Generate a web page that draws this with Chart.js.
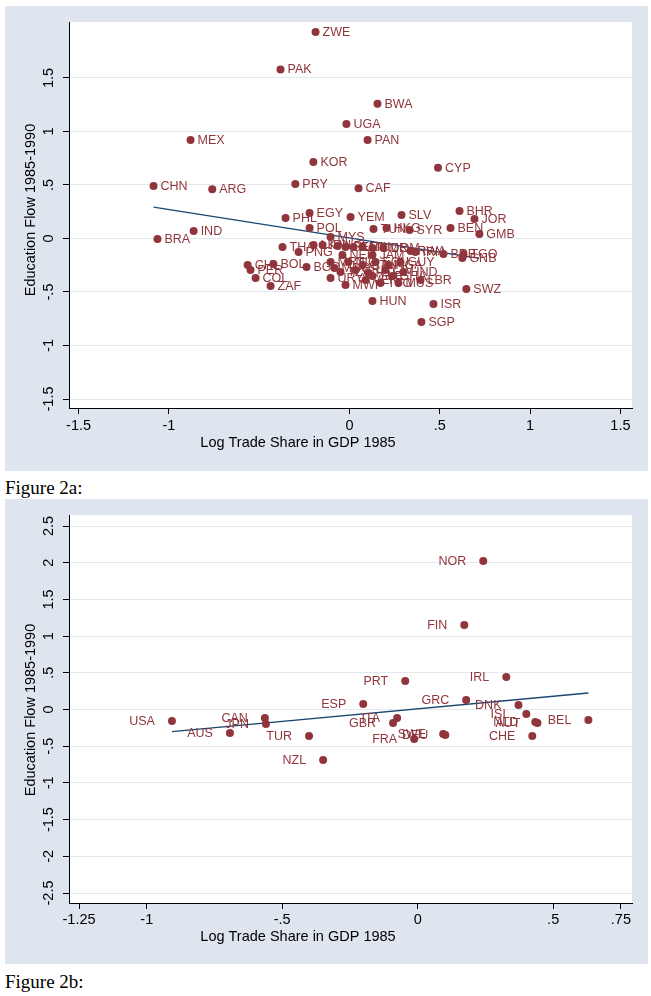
<!DOCTYPE html>
<html><head><meta charset="utf-8">
<script src="https://cdn.jsdelivr.net/npm/chart.js@4.4.1/dist/chart.umd.min.js"></script>
<style>
html,body{margin:0;padding:0;background:#fff;}
body{width:651px;height:996px;position:relative;overflow:hidden;}
canvas{position:absolute;left:5px;}
#ca{top:6px;} #cb{top:499px;}
.fig{position:absolute;left:5px;font-family:"Liberation Serif","DejaVu Serif",serif;font-size:19px;line-height:20px;color:#000;white-space:nowrap;}
#fa{top:478px;} #fb{top:972px;}
</style></head><body>
<canvas id="ca" width="643" height="465"></canvas>
<div class="fig" id="fa">Figure 2a:</div>
<canvas id="cb" width="643" height="465"></canvas>
<div class="fig" id="fb">Figure 2b:</div>
<script>
// ---------- Figure 2a data ----------
const countriesA = ["ZWE","PAK","BWA","UGA","PAN","MEX","KOR","CYP","CHN","ARG","PRY","CAF","EGY","PHL","YEM","SLV","BHR","JOR","GMB","BEN","SYR","TUN","HKG","POL","IND","BRA","MYS","THA","PNG","CHL","PER","COL","BOL","ZAF","BGD","HUN","ISR","SGP","SWZ","GNB","TGO","BRB","RWA","IRN","DOM","LKA","IDN","NPL","SEN","KEN","MLI","CMR","NER","JAM","GUY","HND","LBR","MUS","TTO","MWI","MRT","MDG","TZA","URY","NIC","CRI","GTM","HTI","ECU","CIV","GHA","VEN","SLE","NGA"];
const tradeA = [-0.188,-0.382,0.155,-0.017,0.10,-0.88,-0.20,0.49,-1.085,-0.76,-0.30,0.05,-0.221,-0.354,0.006,0.288,0.609,0.692,0.719,0.559,0.332,0.133,0.205,-0.221,-0.863,-1.063,-0.105,-0.371,-0.282,-0.564,-0.548,-0.520,-0.421,-0.437,-0.238,0.127,0.465,0.398,0.647,0.625,0.631,0.520,0.338,0.365,0.188,-0.199,-0.149,-0.066,-0.022,0.022,0.072,0.127,-0.039,0.127,0.282,0.299,0.393,0.271,0.172,-0.022,-0.105,-0.083,-0.050,-0.105,-0.006,0.033,0.072,0.105,0.144,0.199,0.238,0.089,0.127,0.216];
const eduA = [1.93,1.58,1.26,1.07,0.92,0.92,0.715,0.66,0.49,0.46,0.51,0.47,0.238,0.192,0.201,0.220,0.257,0.182,0.042,0.098,0.079,0.089,0.098,0.098,0.070,-0.005,0.014,-0.079,-0.126,-0.248,-0.294,-0.369,-0.238,-0.444,-0.266,-0.584,-0.612,-0.780,-0.472,-0.182,-0.145,-0.145,-0.117,-0.126,-0.089,-0.061,-0.061,-0.070,-0.079,-0.079,-0.079,-0.089,-0.154,-0.154,-0.220,-0.313,-0.388,-0.416,-0.416,-0.435,-0.220,-0.276,-0.313,-0.369,-0.220,-0.294,-0.248,-0.322,-0.220,-0.294,-0.350,-0.388,-0.350,-0.248];
const fitXA = [-1.085, 0.719];
const fitYA = [0.294, -0.186];
const xTicksA = [-1.5,-1,0,0.5,1,1.5];
const xTickLabelsA = ["-1.5","-1","0",".5","1","1.5"];
const yTicksA = [-1.5,-1,-0.5,0,0.5,1,1.5];
const yTickLabelsA = ["-1.5","-1","-.5","0",".5","1","1.5"];

// ---------- Figure 2b data ----------
const countriesB = ["NOR","FIN","PRT","IRL","GRC","ESP","DNK","ISL","NLD","AUT","BEL","CHE","ITA","GBR","FRA","SWE","DEU","TUR","NZL","USA","CAN","JPN","AUS"];
const tradeB = [0.242,0.172,-0.046,0.327,0.179,-0.201,0.372,0.401,0.434,0.442,0.630,0.423,-0.076,-0.091,-0.013,0.094,0.102,-0.401,-0.349,-0.907,-0.564,-0.560,-0.693];
const eduB = [2.023,1.151,0.388,0.443,0.129,0.075,0.061,-0.061,-0.170,-0.184,-0.143,-0.361,-0.116,-0.184,-0.402,-0.334,-0.347,-0.361,-0.688,-0.157,-0.116,-0.198,-0.320];
const fitXB = [-0.907, 0.630];
const fitYB = [-0.30, 0.225];
const xTicksB = [-1.25,-1,-0.5,0,0.5,0.75];
const xTickLabelsB = ["-1.25","-1","-.5","0",".5",".75"];
const yTicksB = [-2.5,-2,-1.5,-1,-0.5,0,0.5,1,1.5,2,2.5];
const yTickLabelsB = ["-2.5","-2","-1.5","-1","-.5","0",".5","1","1.5","2","2.5"];

const xTitle = 'Log Trade Share in GDP 1985';
const yTitle = 'Education Flow 1985-1990';

const MAROON = '#90353b', NAVY = '#1a476f', PANEL = '#dfe5ee', GRID = '#e2e9f1';
const FONT = '"Liberation Sans", Arial, sans-serif';

function makeChart(id, cfg) {
  const bgPlugin = { id: 'bg', beforeDraw(chart) {
    const {ctx, chartArea: a, width, height} = chart;
    ctx.save(); ctx.fillStyle = PANEL; ctx.fillRect(0, 0, width, height);
    ctx.fillStyle = '#fff'; ctx.fillRect(a.left, a.top, a.right - a.left, a.bottom - a.top); ctx.restore();
  }};
  const labelPlugin = { id: 'ptLabels', afterDatasetsDraw(chart) {
    const ctx = chart.ctx, meta = chart.getDatasetMeta(0);
    ctx.save(); ctx.font = '12.5px ' + FONT; ctx.fillStyle = MAROON; ctx.textBaseline = 'middle';
    const right = cfg.labelSide === 'right';
    ctx.textAlign = right ? 'left' : 'right';
    meta.data.forEach((el, i) => { ctx.fillText(cfg.names[i], el.x + (right ? 7 : -17), el.y + 0.5); });
    ctx.restore();
  }};
  const axisTextPlugin = { id: 'axisText', afterDraw(chart) {
    const s = chart.scales.y, ctx = chart.ctx;
    ctx.save(); ctx.font = '14.5px ' + FONT; ctx.fillStyle = '#000'; ctx.textAlign = 'center'; ctx.textBaseline = 'middle';
    s.ticks.forEach((t, i) => {
      const py = s.getPixelForValue(t.value);
      ctx.save(); ctx.translate(s.right - 20, py); ctx.rotate(-Math.PI / 2); ctx.fillText(cfg.yLabels[i], 0, 0); ctx.restore();
    });
    // axis titles
    ctx.save(); ctx.translate(26, cfg.yTitleY); ctx.rotate(-Math.PI / 2); ctx.fillText(yTitle, 0, 0); ctx.restore();
    ctx.fillText(xTitle, 293, cfg.xTitleY);
    ctx.restore();
  }};
  return new Chart(document.getElementById(id), {
    type: 'scatter',
    data: { datasets: [
      { type: 'scatter', data: cfg.xs.map((x, i) => ({x, y: cfg.ys[i]})), backgroundColor: MAROON, borderColor: MAROON, borderWidth: 0, pointRadius: 4, pointHoverRadius: 4 },
      { type: 'line', data: cfg.fitX.map((x, i) => ({x, y: cfg.fitY[i]})), borderColor: NAVY, borderWidth: 1.3, pointRadius: 0, fill: false, tension: 0 }
    ]},
    options: {
      responsive: false, animation: false, devicePixelRatio: 1,
      layout: { padding: { top: 16, right: 16, left: 0, bottom: 0 } },
      plugins: { legend: { display: false }, tooltip: { enabled: false } },
      scales: {
        x: { type: 'linear', position: 'bottom', min: cfg.xMin, max: cfg.xMax,
          afterBuildTicks: s => { s.ticks = cfg.xTicks.map(v => ({value: v})); },
          afterFit: s => { s.height = cfg.xAxisH; s.paddingLeft = 0; s.paddingRight = 0; s.paddingTop = 0; s.paddingBottom = 0; },
          grid: { drawOnChartArea: false, drawTicks: true, tickLength: 6, tickColor: '#000', color: '#000' },
          border: { display: true, color: '#000', width: 1 },
          ticks: { color: '#000', font: { family: FONT, size: 14.5 }, padding: cfg.xTickPad, maxRotation: 0, minRotation: 0, autoSkip: false, callback: (v, i) => cfg.xLabels[i] },
          title: { display: false }
        },
        y: { type: 'linear', position: 'left', min: cfg.yMin, max: cfg.yMax,
          afterBuildTicks: s => { s.ticks = cfg.yTicks.map(v => ({value: v})); },
          afterFit: s => { s.width = 64; s.paddingTop = 0; s.paddingBottom = 0; s.paddingLeft = 0; s.paddingRight = 0; },
          grid: { drawOnChartArea: true, color: GRID, lineWidth: 1, drawTicks: true, tickLength: 6, tickColor: '#000' },
          border: { display: true, color: '#000', width: 1 },
          ticks: { display: false },
          title: { display: false }
        }
      }
    },
    plugins: [bgPlugin, labelPlugin, axisTextPlugin]
  });
}

makeChart('ca', { names: countriesA, xs: tradeA, ys: eduA, fitX: fitXA, fitY: fitYA,
  xTicks: xTicksA, xLabels: xTickLabelsA, yTicks: yTicksA, yLabels: yTickLabelsA,
  xMin: -1.553, xMax: 1.564, yMin: -1.584, yMax: 2.023, xAxisH: 63, xTickPad: 3,
  xTitleY: 437, yTitleY: 204, labelSide: 'right' });
makeChart('cb', { names: countriesB, xs: tradeB, ys: eduB, fitX: fitXB, fitY: fitYB,
  xTicks: xTicksB, xLabels: xTickLabelsB, yTicks: yTicksB, yLabels: yTickLabelsB,
  xMin: -1.287, xMax: 0.791, yMin: -2.636, yMax: 2.65, xAxisH: 61, xTickPad: 2,
  xTitleY: 438, yTitleY: 211, labelSide: 'left' });
</script></body></html>
